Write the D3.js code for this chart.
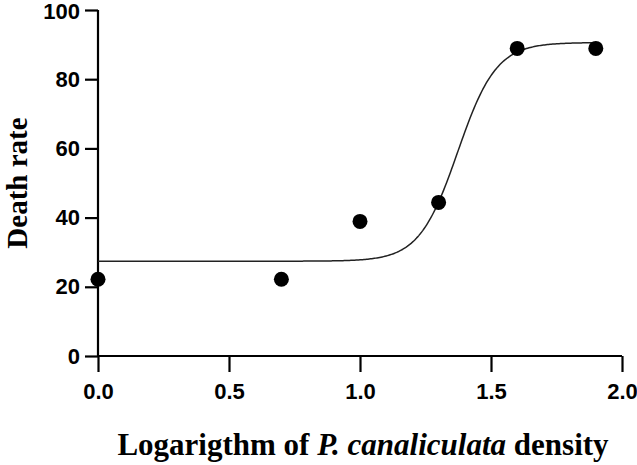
<!DOCTYPE html>
<html>
<head>
<meta charset="utf-8">
<script src="https://cdn.jsdelivr.net/npm/d3@7"></script>
<style>
  body { margin: 0; background: #fff; }
</style>
</head>
<body>
<div id="chart"></div>
<script>
// observed points
const densityLog = [0.0, 0.7, 1.0, 1.3, 1.6, 1.9];
const deathRate = [22.2, 22.2, 38.9, 44.4, 88.9, 88.9];

// fitted sigmoid (bottom, top, logEC50, hill slope)
const fitBottom = 27.4;
const fitTop = 90.6;
const fitLogEC50 = 1.373;
const fitHill = 5.9;

const xTicks = [0.0, 0.5, 1.0, 1.5, 2.0];
const yTicks = [0, 20, 40, 60, 80, 100];

const width = 637, height = 465;
const margin = { top: 10, right: 15, bottom: 109, left: 98 };

const svg = d3.select('#chart')
    .append('svg')
    .attr('width', width)
    .attr('height', height);

const x = d3.scaleLinear()
    .domain([0, 2])
    .range([margin.left, width - margin.right]);

const y = d3.scaleLinear()
    .domain([0, 100])
    .range([height - margin.bottom, margin.top]);

const xAxis = svg.append('g')
    .attr('transform', `translate(0,${y(0)})`)
    .call(d3.axisBottom(x).tickValues(xTicks).tickFormat(d3.format('.1f')).tickSize(16).tickSizeOuter(0));

const yAxis = svg.append('g')
    .attr('transform', `translate(${x(0)},0)`)
    .call(d3.axisLeft(y).tickValues(yTicks).tickSize(13).tickSizeOuter(0));

[xAxis, yAxis].forEach(a => {
    a.selectAll('path, line').attr('stroke', '#000').attr('stroke-width', 2.2);
    a.selectAll('text')
        .attr('fill', '#000')
        .style('font-family', 'Liberation Sans, Arial, sans-serif')
        .style('font-weight', 'bold')
        .style('font-size', '22px');
});
xAxis.selectAll('text').attr('y', 43).attr('dy', 0);
xAxis.select('.domain').attr('d', `M${x(0)},0H${x(2)}`);
yAxis.select('.domain').attr('d', `M0,${y(100)}V${y(0)}`);
yAxis.selectAll('text').attr('x', -18);
// keep the top label inside the frame
yAxis.selectAll('.tick').filter(d => d === 100).select('text').attr('dy', '0.4em');

// fitted curve
const curveX = d3.range(0, 1.9001, 0.005);
const model = v => fitBottom + (fitTop - fitBottom) / (1 + Math.pow(10, (fitLogEC50 - v) * fitHill));
const line = d3.line()
    .x(d => x(d))
    .y(d => y(model(d)));

svg.append('path')
    .datum(curveX)
    .attr('d', line)
    .attr('fill', 'none')
    .attr('stroke', '#222')
    .attr('stroke-width', 1.5);

// points
svg.append('g')
    .selectAll('circle')
    .data(densityLog)
    .join('circle')
    .attr('cx', d => x(d))
    .attr('cy', (d, i) => y(deathRate[i]))
    .attr('r', 7.5)
    .attr('fill', '#000');

// axis titles
const xTitle = svg.append('text')
    .attr('x', 363)
    .attr('y', 455)
    .attr('text-anchor', 'middle')
    .style('font-family', 'Liberation Serif, Times New Roman, serif')
    .style('font-weight', 'bold')
    .style('font-size', '31px')
    .attr('fill', '#000');
xTitle.append('tspan').text('Logarigthm of ');
xTitle.append('tspan').style('font-style', 'italic').text('P. canaliculata');
xTitle.append('tspan').text(' density');

svg.append('text')
    .attr('transform', `translate(27,183) rotate(-90)`)
    .attr('text-anchor', 'middle')
    .style('font-family', 'Liberation Serif, Times New Roman, serif')
    .style('font-weight', 'bold')
    .style('font-size', '29px')
    .attr('fill', '#000')
    .text('Death rate');
</script>
</body>
</html>
